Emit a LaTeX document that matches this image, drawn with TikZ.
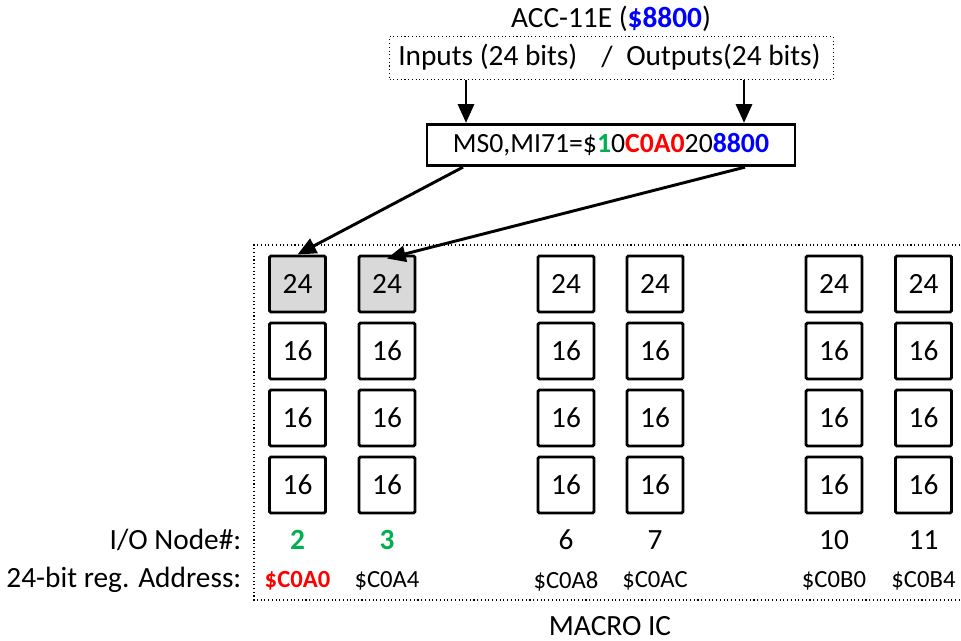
\documentclass[tikz,border=0pt]{standalone}
\usepackage{fontspec}
\setmainfont{Carlito}
\usetikzlibrary{arrows.meta}
\definecolor{regred}{HTML}{FF0000}
\definecolor{nodegreen}{HTML}{00B050}
\definecolor{accblue}{HTML}{0000FF}
\definecolor{selgray}{HTML}{D9D9D9}
\tikzset{
  big/.style={font=\fontsize{22}{26}\selectfont},
  small/.style={font=\fontsize{18.5}{22}\selectfont},
  regbox/.style={draw, line width=2.2pt, rounded corners=1pt, minimum width=42pt,
    minimum height=42pt, inner sep=0pt, big},
  selbox/.style={regbox, fill=selgray},
  dotbox/.style={draw, line width=0.8pt, dotted},
  link/.style={line width=2.2pt, -{Triangle[length=14pt,width=12pt]}},
}
\begin{document}
\begin{tikzpicture}[x=0.75pt, y=-0.75pt]
\useasboundingbox (0,0) rectangle (961,641);

% ACC-11E header and its I/O box
\node[big] (title) at (611,19) {ACC-11E (\textcolor{accblue}{\textbf{\$8800}})};
\node[dotbox, minimum width=333pt, minimum height=32pt, inner sep=0pt] (io) at (611.5,58) {};
\node[big, anchor=west, inner sep=0pt] (inp) at (398,57) {Inputs (24 bits)};
\node[big] (slash) at (607,57) {/};
\node[big, anchor=west, inner sep=0pt] (outp) at (626,57) {Outputs(24 bits)};

% Macro setup word
\node[draw, line width=2.2pt, minimum width=276pt, minimum height=31pt, inner sep=0pt,
  font=\fontsize{20.8}{24}\selectfont] (ms) at (611,145)
  {MS0,MI71=\$\textcolor{nodegreen}{\textbf{1}}0\textcolor{regred}{\textbf{C0A0}}20\textcolor{accblue}{\textbf{8800}}};

\coordinate (inx) at (466,0);
\coordinate (outx) at (744,0);
\draw[link] (io.south -| inx) -- (ms.north -| inx);
\draw[link] (io.south -| outx) -- (ms.north -| outx);

% MACRO IC outline (open to the right)
\draw[dotbox] (975,245) -- (254,245) -- (254,600) -- (975,600);
\node[big, inner sep=0pt] (ic) at (610,626) {MACRO IC};

% register columns
\foreach \c/\x in {1/297.5, 2/387, 3/566, 4/655, 5/834, 6/923.5} {
  \ifnum\c<3
    \node[selbox] (c\c r1) at (\x,284) {24};
  \else
    \node[regbox] (c\c r1) at (\x,284) {24};
  \fi
  \node[regbox] (c\c r2) at (\x,351) {16};
  \node[regbox] (c\c r3) at (\x,418) {16};
  \node[regbox] (c\c r4) at (\x,485) {16};
}

% links from the setup word to the selected registers
\coordinate (sa) at (463,0);
\coordinate (sb) at (745,0);
\draw[link] (ms.south -| sa) -- (c1r1.north);
\draw[link] (ms.south -| sb) -- ([yshift=-3pt]c2r1.north);

% row labels
\node[big, anchor=east] (nlab) at (246,540) {I/O Node\#:};
\node[big, anchor=east] (alab) at (246,580) {24-bit reg. Address:};

% node numbers
\node[big, text=nodegreen] (n1) at (297.5,540) {\textbf{2}};
\node[big, text=nodegreen] (n2) at (387,540) {\textbf{3}};
\node[big] (n3) at (566,540) {6};
\node[big] (n4) at (655,540) {7};
\node[big] (n5) at (834,540) {10};
\node[big] (n6) at (923.5,540) {11};

% register addresses
\node[small, text=regred] (a1) at (297.5,581) {\textbf{\$C0A0}};
\node[small] (a2) at (387,581) {\$C0A4};
\node[small] (a3) at (566,581) {\$C0A8};
\node[small] (a4) at (655,581) {\$C0AC};
\node[small] (a5) at (834,581) {\$C0B0};
\node[small] (a6) at (923.5,581) {\$C0B4};
\end{tikzpicture}
\end{document}
